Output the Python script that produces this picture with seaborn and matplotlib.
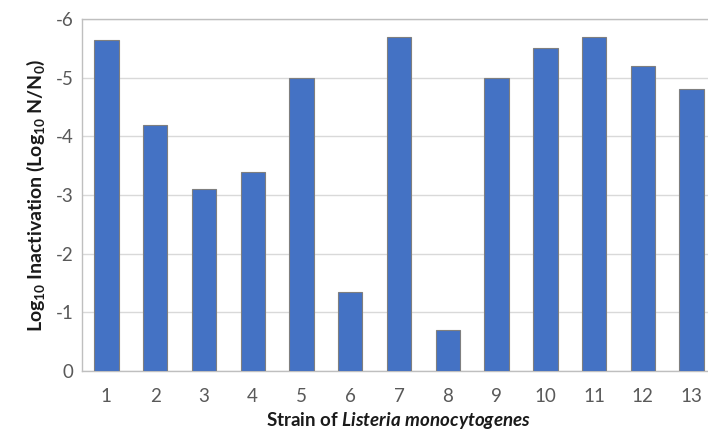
import matplotlib
matplotlib.use("Agg")
import matplotlib.pyplot as plt
import seaborn as sns
import pandas as pd

strains = ["1", "2", "3", "4", "5", "6", "7", "8", "9", "10", "11", "12", "13"]
log_inactivation = [-5.65, -4.2, -3.1, -3.4, -5.0, -1.35, -5.7, -0.7, -5.0, -5.5, -5.7, -5.2, -4.8]
y_ticks = [0, -1, -2, -3, -4, -5, -6]

sns.set_theme(style="white")
plt.rcParams["font.family"] = ["Lato", "DejaVu Sans"]
plt.rcParams["axes.unicode_minus"] = False
plt.rcParams["mathtext.fontset"] = "custom"
plt.rcParams["mathtext.rm"] = "Lato:bold"
plt.rcParams["mathtext.bf"] = "Lato:bold"
plt.rcParams["mathtext.it"] = "Lato:bold:italic"

df = pd.DataFrame({"strain": strains, "value": log_inactivation})

fig = plt.figure(figsize=(7.08, 4.34), dpi=100)
ax = fig.add_axes([82 / 708, 1 - 371 / 434, (716 - 82) / 708, (371 - 19) / 434])

sns.barplot(data=df, x="strain", y="value", order=strains, color="#4472C4",
            saturation=1, width=0.5, edgecolor="#7f7f7f", linewidth=0.8, ax=ax, zorder=3)

ax.set_ylim(0, -6)
ax.set_xlim(-0.5, 12.5)
ax.set_yticks(y_ticks)
ax.set_yticklabels([str(t) for t in y_ticks])
ax.yaxis.grid(True, color="#d9d9d9", linewidth=1, zorder=0)
ax.set_axisbelow(True)
for s in ax.spines.values():
    s.set_color("#bfbfbf")
    s.set_linewidth(1)
ax.tick_params(axis="both", length=0, labelsize=13.5, labelcolor="#595959")
ax.tick_params(axis="x", pad=12)
ax.tick_params(axis="y", pad=6)

ax.set_ylabel(r"Log$_{\mathbf{10}}$ Inactivation (Log$_{\mathbf{10}}$ N/N$_{\mathbf{0}}$)",
              fontsize=14, fontweight="bold", color="#1a1a1a", labelpad=6)
ax.set_xlabel(r"Strain of $Listeria\ monocytogenes$", fontsize=13.5,
              fontweight="bold", color="#1a1a1a", labelpad=4)

fig.savefig("out.png", dpi=100)
